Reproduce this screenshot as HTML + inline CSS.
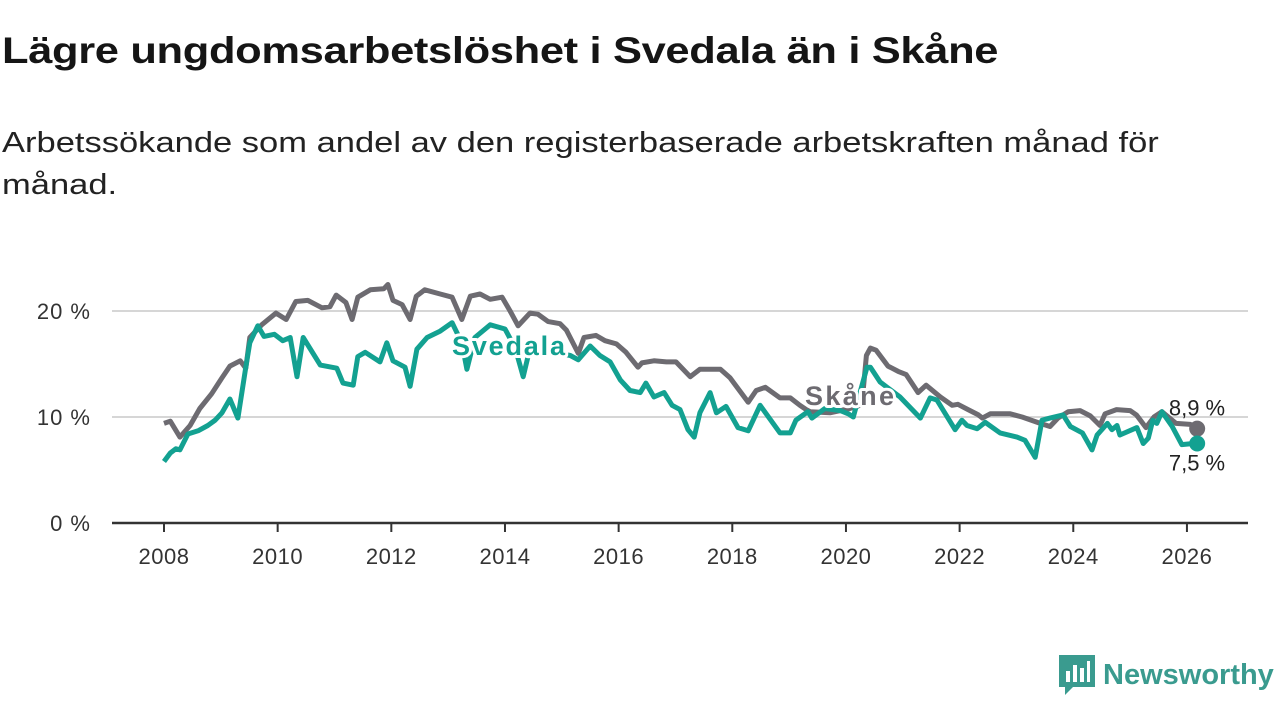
<!DOCTYPE html>
<html><head><meta charset="utf-8">
<style>
body{margin:0;width:1280px;height:720px;background:#fff;font-family:"Liberation Sans","DejaVu Sans",sans-serif;overflow:hidden;position:relative}
h1{position:absolute;left:2px;top:30px;margin:0;font-size:37px;font-weight:bold;color:#151515;letter-spacing:-0.3px;transform:scaleX(1.175);transform-origin:0 0;white-space:nowrap}
.sub{position:absolute;left:2px;top:122px;margin:0;font-size:29px;line-height:42px;color:#222;white-space:nowrap;transform:scaleX(1.19);transform-origin:0 0}
svg{position:absolute;left:0;top:0}
</style></head><body>
<h1>Lägre ungdomsarbetslöshet i Svedala än i Skåne</h1>
<p class="sub">Arbetssökande som andel av den registerbaserade arbetskraften månad för<br>månad.</p>
<svg id="chart" width="1280" height="720"></svg>
<script>
const yTicks=[0,10,20];
const yTickLabels=["0 %","10 %","20 %"];
const xTicks=[2008,2010,2012,2014,2016,2018,2020,2022,2024,2026];
const skaneYears=[2008.0,2008.11,2008.28,2008.46,2008.63,2008.84,2009.02,2009.16,2009.34,2009.44,2009.51,2009.72,2009.97,2010.15,2010.32,2010.53,2010.78,2010.92,2011.03,2011.2,2011.31,2011.41,2011.63,2011.87,2011.94,2012.03,2012.19,2012.33,2012.44,2012.59,2012.86,2013.07,2013.24,2013.39,2013.56,2013.74,2013.95,2014.09,2014.23,2014.44,2014.58,2014.76,2014.97,2015.08,2015.29,2015.39,2015.6,2015.76,2015.96,2016.13,2016.34,2016.41,2016.62,2016.84,2017.01,2017.26,2017.43,2017.79,2017.96,2018.28,2018.42,2018.58,2018.84,2019.02,2019.19,2019.3,2019.37,2019.72,2020.07,2020.2,2020.28,2020.36,2020.43,2020.53,2020.74,2020.92,2021.06,2021.27,2021.41,2021.66,2021.87,2021.97,2022.15,2022.33,2022.4,2022.54,2022.89,2023.1,2023.42,2023.59,2023.73,2023.91,2024.12,2024.3,2024.47,2024.56,2024.76,2025.0,2025.11,2025.28,2025.42,2025.56,2025.81,2026.06,2026.18];
const skaneValues=[9.4,9.6,8.1,9.2,10.8,12.2,13.7,14.8,15.3,14.6,17.5,18.7,19.8,19.2,20.9,21.0,20.3,20.4,21.5,20.8,19.2,21.3,22.0,22.1,22.5,21.0,20.6,19.2,21.4,22.0,21.6,21.3,19.2,21.4,21.6,21.1,21.3,20.0,18.6,19.8,19.7,19.0,18.8,18.2,16.0,17.5,17.7,17.2,16.9,16.1,14.7,15.1,15.3,15.2,15.2,13.8,14.5,14.5,13.7,11.4,12.5,12.8,11.8,11.8,11.1,10.7,10.5,10.4,10.8,11.0,11.2,15.8,16.5,16.3,14.8,14.3,14.0,12.3,13.0,11.9,11.1,11.2,10.7,10.2,9.9,10.3,10.3,10.0,9.4,9.1,9.9,10.5,10.6,10.1,9.2,10.3,10.7,10.6,10.2,9.0,10.0,10.5,9.4,9.3,8.9];
const svedalaYears=[2008.0,2008.11,2008.21,2008.28,2008.42,2008.6,2008.77,2008.9,2009.02,2009.16,2009.3,2009.43,2009.51,2009.65,2009.76,2009.94,2010.09,2010.22,2010.34,2010.45,2010.75,2011.04,2011.15,2011.33,2011.41,2011.54,2011.8,2011.92,2012.03,2012.24,2012.33,2012.45,2012.63,2012.86,2013.07,2013.24,2013.33,2013.47,2013.74,2014.0,2014.18,2014.32,2014.44,2014.71,2014.97,2015.15,2015.29,2015.5,2015.67,2015.85,2016.03,2016.2,2016.38,2016.48,2016.62,2016.8,2016.94,2017.08,2017.22,2017.33,2017.43,2017.61,2017.72,2017.89,2018.1,2018.28,2018.49,2018.84,2019.02,2019.12,2019.33,2019.4,2019.63,2019.9,2020.04,2020.13,2020.37,2020.43,2020.6,2020.95,2021.31,2021.48,2021.6,2021.92,2022.04,2022.13,2022.31,2022.45,2022.71,2023.01,2023.15,2023.33,2023.45,2023.59,2023.82,2023.95,2024.16,2024.33,2024.42,2024.6,2024.68,2024.77,2024.82,2025.12,2025.23,2025.32,2025.4,2025.47,2025.56,2025.74,2025.91,2026.11,2026.18];
const svedalaValues=[5.8,6.6,7.0,6.9,8.4,8.7,9.2,9.7,10.4,11.7,9.9,14.4,17.0,18.6,17.6,17.8,17.2,17.5,13.8,17.5,14.9,14.6,13.2,13.0,15.7,16.1,15.2,17.0,15.3,14.7,12.9,16.4,17.5,18.1,18.9,17.0,14.5,17.5,18.7,18.3,16.5,13.8,16.5,16.3,16.0,15.8,15.4,16.7,15.8,15.2,13.5,12.5,12.3,13.2,11.9,12.3,11.1,10.7,8.8,8.1,10.4,12.3,10.4,11.0,9.0,8.7,11.1,8.5,8.5,9.7,10.5,9.9,10.8,10.6,10.3,10.0,14.7,14.7,13.3,11.9,9.9,11.8,11.6,8.8,9.7,9.2,8.9,9.5,8.5,8.1,7.8,6.2,9.7,9.9,10.2,9.1,8.5,6.9,8.3,9.4,8.8,9.2,8.3,9.0,7.5,8.0,9.7,9.4,10.5,9.1,7.4,7.5,7.5];

const NS='http://www.w3.org/2000/svg';
const svg=document.getElementById('chart');
const X=y=>164+(y-2008)*56.83;
const Y=v=>523-v*10.6;
function mk(tag,attrs,parent){const e=document.createElementNS(NS,tag);for(const k in attrs)e.setAttribute(k,attrs[k]);(parent||svg).appendChild(e);return e;}

yTicks.forEach((t,i)=>{
  if(t>0){const g=mk('line',{x1:112,x2:1248,y1:Y(t),y2:Y(t),stroke:'#d6d6d6','stroke-width':2});
  
  }
  const tx=mk('text',{x:91,y:Y(t)+8,'text-anchor':'end','font-size':22,fill:'#333','letter-spacing':'1'});
  tx.textContent=yTickLabels[i];
  
  
});
const ax=mk('line',{x1:112,x2:1248,y1:523,y2:523,stroke:'#333','stroke-width':2.5});


xTicks.forEach(t=>{
  const tk=mk('line',{x1:X(t),x2:X(t),y1:523,y2:532,stroke:'#333','stroke-width':2});
  
  
  const tx=mk('text',{x:X(t),y:564,'text-anchor':'middle','font-size':22,fill:'#333','letter-spacing':'0.5'});
  tx.textContent=t;
  
  
});
function path(xs,vs){return xs.map((x,i)=>(i?'L':'M')+X(x).toFixed(1)+','+Y(vs[i]).toFixed(1)).join('');}
const ls=mk('path',{d:path(skaneYears,skaneValues),fill:'none',stroke:'#6d6b71','stroke-width':5,'stroke-linejoin':'round'});


const lv=mk('path',{d:path(svedalaYears,svedalaValues),fill:'none',stroke:'#13a191','stroke-width':5,'stroke-linejoin':'round'});


const ns=skaneYears.length-1, nv=svedalaYears.length-1;
const ds=mk('circle',{cx:X(skaneYears[ns]),cy:Y(skaneValues[ns]),r:8,fill:'#6d6b71'});


const dv=mk('circle',{cx:X(svedalaYears[nv]),cy:Y(svedalaValues[nv]),r:8,fill:'#13a191'});


const es=mk('text',{x:1197,y:Y(skaneValues[ns])-13,'text-anchor':'middle','font-size':22,fill:'#222'});
es.textContent=String(skaneValues[ns]).replace('.',',')+' %';


const ev=mk('text',{x:1197,y:Y(svedalaValues[nv])+27,'text-anchor':'middle','font-size':22,fill:'#222'});
ev.textContent=String(svedalaValues[nv]).replace('.',',')+' %';


const sl=mk('text',{x:452,y:355,'font-size':27,'font-weight':'bold',fill:'#13a191',stroke:'#fff','stroke-width':6,'paint-order':'stroke','stroke-linejoin':'round',textLength:113});
sl.textContent='Svedala';


const kl=mk('text',{x:805,y:405,'font-size':27,'font-weight':'bold',fill:'#6d6b71',stroke:'#fff','stroke-width':6,'paint-order':'stroke','stroke-linejoin':'round',textLength:89});
kl.textContent='Skåne';


</script>
<div style="position:absolute;left:1059px;top:655px;display:flex;align-items:center">
  <svg width="36" height="40" viewBox="0 0 36 40" style="position:static">
    <path d="M0 0H36V32H14L6 40V32H0Z" fill="#3a9b8f"/>
    <rect x="7" y="16" width="4" height="11" fill="#fff"/><rect x="14" y="10" width="4" height="17" fill="#fff"/><rect x="21" y="13" width="4" height="14" fill="#fff"/><rect x="28" y="6" width="3" height="21" fill="#fff"/>
  </svg>
  <span style="font-size:29px;font-weight:bold;color:#3a9b8f;margin-left:8px">Newsworthy</span>
</div>
</body></html>
